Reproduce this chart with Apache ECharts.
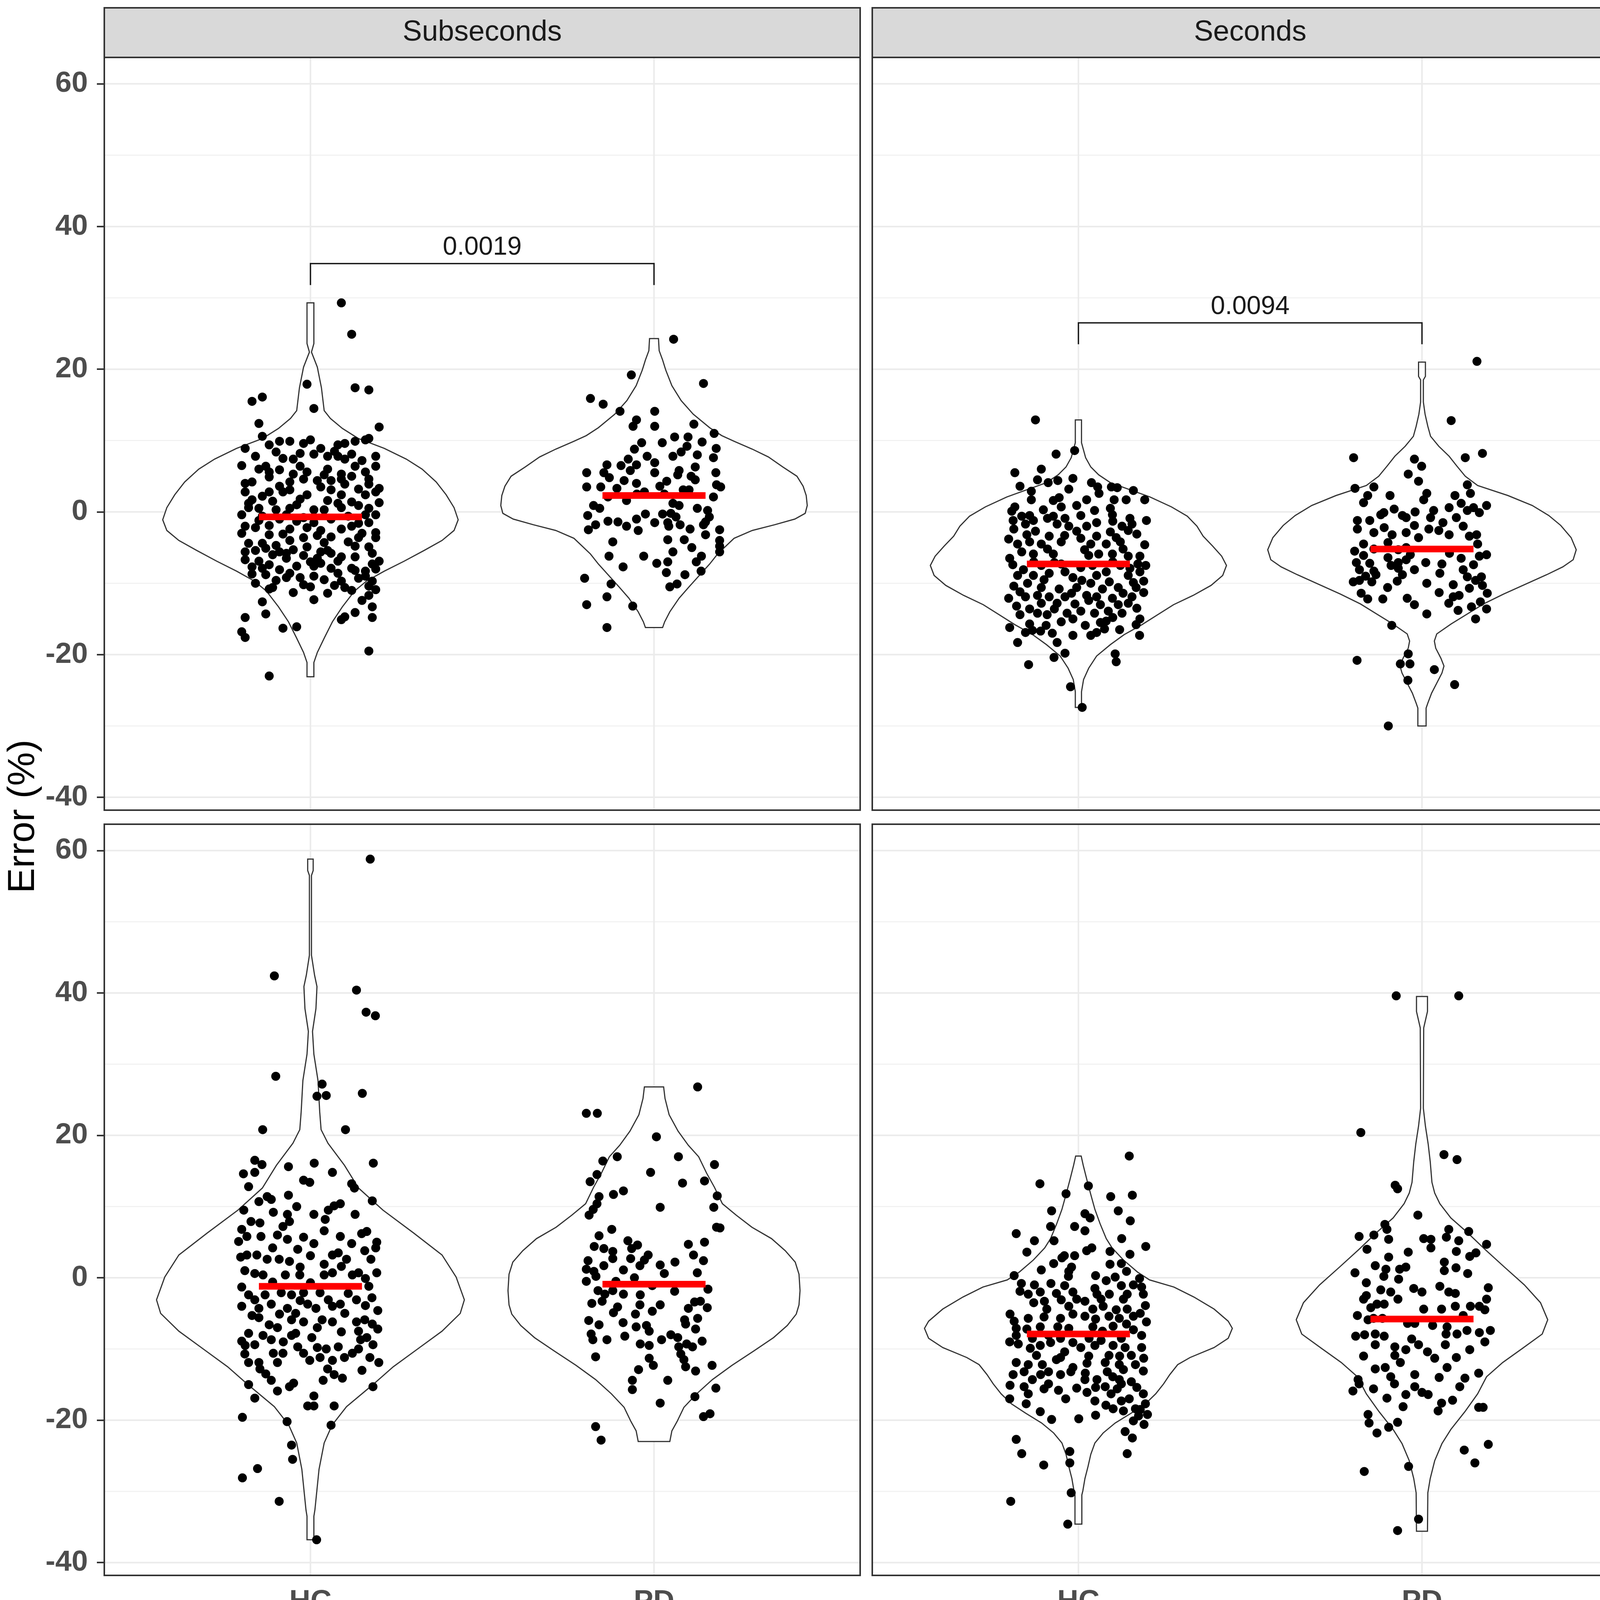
<!DOCTYPE html>
<html>
<head>
<meta charset="utf-8">
<script src="https://cdn.jsdelivr.net/npm/echarts@6/dist/echarts.min.js"></script>
<style>
  html, body { margin: 0; padding: 0; background: #fff; }
  #chart { width: 4317px; height: 4151px; }
</style>
</head>
<body>
<div id="chart"></div>
<script>
// categories and facet labels
var groups = ['HC', 'PD'];
var durations = ['Subseconds', 'Seconds'];
var modalities = ['Auditory', 'Visual'];
var yTicks = [-40, -20, 0, 20, 40, 60];
var yMinor = [-30, -10, 10, 30, 50];

// jittered points: [horizontal jitter, error %]
var subAudHC = [
  [0.09,29.3],[0.12,24.9],[-0.01,17.9],[0.13,17.4],[0.17,17.1],[-0.17,15.5],[-0.14,16.1],[0.01,14.5],[-0.15,12.4],[0.20,11.9],
  [-0.14,10.6],[-0.12,9.4],[-0.09,9.9],[-0.06,9.9],[-0.02,9.6],[0.00,10.1],[0.08,9.4],[0.10,9.6],[0.13,9.9],[0.16,10.1],[0.17,10.3],
  [-0.16,7.8],[-0.08,7.5],[0.01,8.1],[0.03,8.9],[0.08,7.8],[0.10,7.4],[0.12,8.1],[0.19,7.8],[-0.20,6.5],[-0.13,6.4],[-0.12,5.6],
  [-0.03,6.4],[-0.05,5.3],[0.05,6.0],[0.13,6.4],[0.16,5.6],[0.19,6.4],[-0.17,4.2],[-0.12,4.9],[-0.06,4.2],[-0.02,4.6],[0.02,4.4],
  [0.06,4.4],[0.09,4.6],[0.10,3.9],[0.17,3.9],[-0.19,2.8],[-0.17,1.7],[-0.12,2.8],[-0.08,2.8],[-0.06,3.1],[-0.01,2.4],[0.06,3.1],
  [0.09,2.4],[0.12,1.4],[0.16,2.4],[0.19,2.8],[-0.18,0.6],[-0.15,0.5],[-0.10,0.3],[-0.06,0.5],[0.01,0.3],[0.04,0.3],[0.09,0.6],
  [0.19,-0.4],[-0.20,-0.4],[-0.14,-0.6],[-0.07,-0.4],[-0.02,-0.8],[0.16,-0.4],[-0.19,-2.0],[-0.16,-2.2],[-0.12,-1.9],[-0.06,-2.4],
  [-0.01,-2.2],[0.03,-2.6],[0.09,-2.4],[0.12,-2.0],[0.17,-1.5],[0.19,-2.9],[-0.18,-4.4],[-0.14,-4.4],[-0.10,-4.7],[-0.06,-4.0],
  [-0.02,-3.6],[0.02,-3.3],[0.06,-3.5],[0.14,-3.6],[0.19,-3.6],[-0.16,-5.4],[-0.13,-5.1],[-0.09,-5.6],[-0.05,-5.3],[-0.01,-4.9],
  [0.06,-5.8],[0.09,-6.3],[0.18,-5.8],[-0.19,-6.7],[-0.15,-6.9],[-0.12,-7.4],[-0.07,-6.5],[-0.02,-6.1],[0.02,-6.5],[0.05,-5.4],
  [0.20,-6.9],[-0.14,-7.9],[-0.09,-8.1],[-0.06,-8.6],[0.01,-7.6],[0.03,-7.2],[0.12,-7.9],[0.16,-8.3],[-0.17,-8.7],[-0.13,-8.8],
  [-0.07,-9.2],[-0.03,-9.2],[0.01,-9.0],[0.04,-9.5],[0.08,-8.6],[0.09,-9.7],[0.16,-9.0],[0.18,-9.7],[-0.12,-10.8],[-0.11,-10.6],
  [0.05,-11.4],[0.01,-12.3],[0.10,-10.6],[0.12,-11.0],[0.17,-10.4],[-0.14,-12.6],[0.17,-11.7],[-0.19,-14.8],[-0.13,-14.3],
  [0.09,-15.1],[0.10,-14.7],[0.13,-14.1],[0.18,-13.3],[0.18,-14.8],[-0.08,-16.3],[-0.04,-16.1],[-0.20,-16.8],[-0.19,-17.6],
  [0.17,-19.5],[-0.12,-23.0],
  [-0.18,1.2],[-0.11,1.5],[-0.03,1.8],[0.05,1.6],[0.14,0.9],[0.20,1.3],[-0.15,-1.2],[-0.04,-1.3],[0.06,-1.0],[0.11,-0.6],
  [0.15,-3.0],[-0.08,-3.1],[0.00,-7.0],[0.08,-6.9],[-0.11,-6.0],[0.13,-4.8],[-0.19,-5.6],[0.04,5.2],[-0.09,5.9],[0.12,5.0],
  [0.20,3.3],[0.07,8.5],[-0.03,8.2],[0.19,-8.0],[-0.02,-10.2],[0.13,-8.2],
  [-0.19,8.9],[-0.10,8.4],[-0.05,7.4],[0.05,7.8],[0.15,7.2],[-0.15,6.0],[-0.01,5.6],[0.09,5.3],[0.17,4.6],[-0.19,4.0],
  [-0.09,3.6],[0.03,3.5],[0.14,3.2],[-0.14,2.2],[-0.04,1.0],[0.08,1.2],[0.17,0.5],[-0.09,-1.0],[0.01,-1.5],[0.14,-1.6],
  [-0.20,-3.0],[-0.12,-3.2],[0.04,-4.3],[0.11,-4.2],[0.17,-4.9],[-0.07,-5.8],[0.03,-5.6],[0.13,-6.3],[-0.17,-7.7],[-0.04,-7.6],
  [0.06,-7.9],[0.18,-7.3],[-0.10,-9.6],[0.00,-10.5],[0.14,-9.3],[-0.16,-10.0],[0.07,-10.3],[0.19,-10.9],[-0.05,-11.3],[0.15,-12.4]
];
var subAudPD = [
  [0.057,24.2],[-0.066,19.2],[0.144,18.0],[-0.185,15.9],[-0.148,15.1],[-0.099,14.1],[0.002,14.1],[-0.051,12.9],[-0.061,12.0],
  [0.002,12.0],[0.116,12.3],[0.175,11.0],[0.099,10.5],[-0.036,9.7],[0.024,9.7],[0.181,8.9],[-0.057,8.8],[0.096,9.2],[0.126,8.0],
  [0.055,7.8],[0.079,8.4],[0.173,7.6],[-0.075,7.4],[-0.137,6.6],[-0.096,6.5],[-0.051,6.6],[0.002,6.9],[0.120,6.3],[-0.146,5.5],
  [-0.196,5.5],[-0.069,5.8],[0.002,5.5],[0.073,5.8],[0.069,5.2],[0.108,5.0],[-0.087,4.4],[-0.051,4.0],[0.037,4.3],[0.017,3.6],
  [-0.196,3.5],[-0.155,3.5],[-0.108,3.3],[0.182,3.8],[0.194,3.5],[0.085,3.1],[0.102,3.1],[0.173,2.1],[-0.134,2.1],[-0.028,2.8],
  [-0.176,0.9],[-0.158,0.5],[0.055,1.2],[0.073,0.9],[-0.193,-0.5],[-0.134,-1.3],[-0.105,-1.4],[-0.051,-1.0],[-0.025,-0.3],
  [0.025,-0.3],[0.002,-1.5],[0.049,-0.2],[0.064,-0.7],[0.126,0.5],[0.156,0.2],[0.161,-0.7],[0.144,-1.8],[0.043,-2.0],[0.076,-1.8],
  [0.105,-2.4],[-0.046,-2.6],[-0.191,-2.5],[0.191,-2.5],[0.191,-4.0],[0.191,-4.8],[0.191,-5.6],[0.040,-3.9],[0.088,-3.9],
  [-0.131,-6.2],[-0.030,-6.2],[0.055,-5.6],[0.138,-6.2],[0.123,-7.0],[0.040,-7.0],[0.008,-7.2],[-0.090,-7.7],[0.137,-8.3],
  [0.036,-8.5],[-0.202,-9.3],[-0.125,-10.1],[0.046,-10.5],[0.067,-10.1],[-0.137,-11.9],[-0.196,-13.0],[-0.062,-13.2],[-0.137,-16.2],
  [0.03,2.5],[-0.08,1.6],[0.15,-3.2],[-0.02,7.8],[0.11,-5.0],[-0.17,-1.8],[0.06,10.5],[-0.12,-4.2],[0.09,-8.8],[0.18,5.5],
  [-0.05,2.5],[0.12,4.5],[-0.13,4.8],[0.04,-1.5],[0.15,-1.4],[-0.08,-2.0],[0.14,9.8]
];
var secAudHC = [
  [-0.125,12.9],[-0.011,8.6],[-0.065,8.1],[-0.108,6.0],[-0.185,5.5],[-0.016,4.7],[-0.119,4.5],[-0.088,4.1],[0.038,4.1],[0.056,3.5],
  [0.096,3.5],[0.113,3.4],[-0.028,3.2],[-0.137,2.9],[0.193,1.7],[-0.137,1.7],[-0.056,2.0],[-0.073,1.6],[0.024,1.7],[0.104,1.7],
  [0.139,1.7],[-0.185,0.7],[-0.102,0.3],[-0.050,0.7],[-0.005,0.9],[0.047,0.2],[0.093,0.5],[-0.194,0.1],[-0.165,-0.6],[-0.142,-0.5],
  [-0.073,-0.6],[-0.039,-0.9],[0.007,-0.5],[0.099,-0.4],[0.150,-0.9],[0.198,-1.2],[-0.131,-1.2],[-0.154,-1.7],[-0.062,-1.7],
  [-0.028,-2.0],[0.024,-2.0],[0.053,-1.5],[0.127,-2.0],[0.156,-1.7],[-0.188,-2.4],[-0.125,-2.7],[-0.085,-3.4],[-0.005,-2.7],
  [0.053,-3.4],[0.093,-2.8],[0.145,-2.6],[-0.203,-3.8],[-0.177,-4.5],[-0.142,-4.2],[-0.108,-4.5],[-0.050,-4.2],[0.007,-3.7],
  [0.036,-4.5],[0.081,-4.5],[0.122,-4.2],[0.193,-4.6],[-0.165,-5.6],[-0.131,-5.9],[-0.073,-5.9],[0.018,-5.3],[0.059,-5.9],
  [0.099,-5.9],[0.145,-6.2],[0.179,-6.2],[-0.191,-7.4],[-0.160,-8.1],[-0.108,-7.5],[-0.050,-7.3],[0.007,-7.8],[0.041,-7.5],
  [0.081,-8.4],[0.122,-7.5],[0.173,-7.3],[0.196,-7.5],[0.179,-8.4],[-0.177,-8.9],[-0.131,-8.9],[-0.085,-8.6],[-0.039,-8.4],
  [-0.016,-9.2],[0.053,-8.9],[0.145,-8.9],[0.190,-9.7],[-0.188,-10.4],[-0.148,-10.0],[-0.108,-10.6],[-0.056,-10.8],[-0.005,-10.6],
  [0.036,-10.0],[0.070,-10.8],[0.116,-10.6],[0.168,-10.6],[-0.203,-12.1],[-0.154,-11.9],[-0.119,-11.7],[-0.085,-11.9],
  [-0.039,-11.9],[0.024,-11.7],[0.053,-11.9],[0.099,-12.1],[0.156,-11.9],[-0.180,-13.2],[-0.108,-12.8],[-0.062,-12.8],
  [-0.010,-12.9],[0.064,-13.0],[0.116,-13.0],[0.145,-12.8],[-0.142,-13.6],[-0.119,-14.2],[-0.091,-14.4],[-0.033,-14.2],
  [0.007,-13.9],[0.047,-14.2],[0.087,-13.9],[0.127,-14.2],[-0.050,-15.4],[-0.016,-15.0],[0.064,-15.5],[0.081,-15.3],[0.179,-15.0],
  [0.168,-15.8],[-0.142,-15.7],[-0.094,-15.9],[-0.200,-16.2],[-0.154,-16.9],[-0.134,-16.6],[-0.076,-17.0],[-0.016,-17.3],
  [0.036,-17.3],[0.053,-16.9],[0.076,-16.4],[0.178,-17.3],[-0.177,-18.3],[-0.062,-18.3],[-0.039,-19.8],[-0.071,-20.4],
  [0.107,-19.9],[0.110,-21.0],[-0.145,-21.4],[-0.023,-24.5],[0.011,-27.4],
  [-0.17,3.6],[-0.06,4.4],[0.06,2.6],[0.16,3.0],[-0.19,-1.2],[-0.09,-0.9],[0.10,-1.3],[-0.04,-3.3],[0.11,-3.6],[0.17,-3.1],
  [-0.15,-3.2],[-0.09,-5.2],[0.03,-6.1],[0.13,-5.2],[-0.20,-6.5],[-0.13,-7.0],[-0.07,-7.1],[0.10,-7.0],[0.15,-7.9],[-0.10,-9.5],
  [0.01,-9.6],[0.09,-9.8],[0.16,-9.9],[-0.17,-11.2],[-0.02,-11.4],[0.13,-11.4],[0.19,-11.3],[-0.17,-14.4],[-0.07,-13.6],
  [0.03,-12.4],[0.10,-14.8],[0.17,-13.5],[-0.11,-16.7],[0.02,-15.9],[0.12,-16.5]
];
var secAudPD = [
  [0.160,21.1],[0.085,12.8],[-0.199,7.6],[0.126,7.6],[0.176,8.2],[-0.022,7.4],[-0.001,6.4],[-0.040,5.3],[-0.010,4.3],[0.132,3.8],
  [-0.195,3.3],[-0.140,3.5],[-0.158,2.3],[-0.093,2.3],[0.014,2.6],[0.005,1.7],[0.141,2.6],[0.096,2.3],[0.114,1.2],[0.132,0.2],
  [0.150,0.6],[0.188,0.9],[0.167,-0.1],[0.079,0.6],[0.034,0.2],[-0.081,0.4],[-0.111,-0.1],[-0.057,-0.5],[0.025,-0.8],[-0.188,-1.2],
  [-0.152,-1.2],[-0.046,-0.8],[-0.022,-1.9],[0.061,-1.5],[-0.188,-2.4],[-0.140,-2.9],[-0.087,-3.2],[-0.046,-2.9],[-0.010,-3.6],
  [0.049,-2.6],[0.079,-3.2],[0.138,-3.4],[0.159,-3.2],[-0.170,-4.5],[-0.099,-4.3],[0.162,-4.5],[-0.196,-5.5],[-0.140,-5.2],
  [-0.069,-5.3],[-0.046,-5.0],[-0.099,-6.4],[-0.034,-6.0],[0.167,-6.2],[0.188,-6.0],[0.114,-6.5],[-0.191,-7.1],[-0.152,-7.2],
  [-0.069,-7.1],[-0.046,-6.7],[0.011,-7.1],[0.058,-7.3],[-0.182,-8.1],[-0.140,-8.3],[-0.069,-7.9],[-0.022,-8.1],[0.052,-8.6],
  [0.120,-8.1],[-0.164,-9.0],[-0.134,-8.8],[-0.057,-8.8],[0.132,-9.1],[0.173,-9.1],[-0.182,-9.6],[-0.146,-9.8],[-0.072,-9.7],
  [0.014,-10.0],[0.091,-10.2],[0.138,-10.7],[0.176,-10.3],[0.156,-9.6],[0.108,-11.7],[0.091,-11.9],[-0.177,-11.4],[-0.158,-12.2],
  [-0.114,-12.2],[-0.043,-12.1],[-0.022,-13.0],[0.078,-12.8],[0.170,-12.6],[0.188,-13.6],[0.144,-13.3],[0.105,-13.8],[0.014,-14.3],
  [0.156,-15.0],[-0.088,-15.9],[-0.040,-19.9],[-0.063,-21.3],[-0.035,-21.3],[-0.189,-20.8],[0.036,-22.1],[-0.041,-23.6],
  [0.095,-24.2],[-0.098,-30.0],
  [-0.17,1.3],[-0.12,-0.4],[-0.02,0.0],[0.10,-0.8],[-0.11,-2.2],[0.02,-2.4],[0.12,-2.0],[-0.17,-6.1],[-0.09,-7.5],[0.08,-5.8],
  [0.15,-7.4],[-0.20,-9.8],[-0.10,-10.6],[0.05,-11.3],[0.19,-11.4]
];
var subVisHC = [
  [0.174,58.8],[-0.105,42.4],[0.134,40.4],[0.162,37.3],[0.189,36.8],[-0.101,28.3],[0.034,27.2],[0.019,25.5],[0.046,25.6],
  [0.151,25.9],[-0.139,20.8],[0.102,20.8],[-0.162,16.5],[-0.141,15.9],[-0.195,14.6],[-0.162,14.8],[-0.064,15.6],[0.011,16.1],
  [0.064,14.8],[0.183,16.1],[-0.020,13.7],[-0.002,13.4],[0.120,13.2],[0.128,12.6],[-0.064,11.6],[-0.150,10.7],[-0.126,11.4],
  [-0.114,11.0],[-0.194,9.5],[-0.108,9.2],[-0.067,8.9],[-0.061,7.9],[0.010,8.9],[0.043,8.2],[0.052,9.5],[0.069,10.1],[0.087,10.4],
  [-0.173,7.9],[-0.147,7.7],[-0.185,5.8],[-0.144,5.8],[-0.096,6.0],[-0.067,5.4],[-0.020,5.7],[0.010,4.8],[0.087,5.8],[0.149,6.2],
  [0.164,6.5],[0.193,5.0],[-0.209,5.1],[-0.185,3.2],[-0.156,3.2],[-0.126,2.6],[-0.091,2.6],[-0.061,2.3],[-0.037,4.0],[0.040,1.9],
  [0.064,3.2],[0.081,3.5],[0.105,2.6],[0.158,3.8],[0.176,2.6],[-0.203,2.9],[-0.191,1.0],[-0.162,0.6],[-0.138,0.4],[-0.073,0.4],
  [-0.031,0.4],[0.040,0.4],[0.064,0.7],[0.122,0.4],[0.140,0.7],[0.193,0.7],[0.170,-1.2],[-0.180,-2.4],[-0.162,-3.1],[-0.132,-2.4],
  [-0.085,-2.1],[-0.055,-2.4],[-0.020,-2.1],[0.028,-2.1],[0.052,-3.1],[0.134,-3.1],[0.179,-2.8],[-0.200,-4.0],[-0.150,-4.3],
  [-0.114,-3.7],[-0.067,-4.3],[-0.043,-5.0],[-0.008,-3.7],[0.016,-4.3],[0.064,-4.0],[0.087,-3.7],[0.196,-4.6],[-0.150,-5.6],
  [-0.055,-5.9],[-0.020,-6.2],[0.034,-5.9],[0.064,-6.2],[0.134,-6.2],[0.158,-5.9],[-0.096,-7.0],[-0.180,-7.8],[-0.138,-8.1],
  [-0.055,-8.1],[-0.043,-7.8],[0.004,-8.4],[0.196,-7.2],[-0.200,-8.9],[-0.162,-9.4],[-0.114,-8.7],[-0.079,-9.0],[-0.037,-9.7],
  [0.046,-10.0],[0.081,-9.7],[0.146,-8.7],[0.164,-8.4],[0.182,-9.4],[-0.191,-10.7],[-0.108,-10.6],[-0.020,-10.6],[-0.002,-11.6],
  [0.028,-11.2],[0.064,-11.6],[0.099,-11.2],[0.122,-10.6],[0.173,-11.2],[0.199,-11.9],[-0.180,-11.9],[-0.150,-11.9],[-0.096,-11.9],
  [-0.147,-12.8],[-0.114,-14.4],[-0.049,-14.8],[-0.061,-15.3],[-0.096,-15.9],[0.037,-14.4],[0.069,-13.6],[0.093,-14.1],
  [-0.180,-15.0],[-0.162,-16.9],[0.182,-15.3],[0.010,-16.6],[-0.008,-18.0],[0.010,-18.0],[0.069,-18.0],[-0.198,-19.6],
  [-0.068,-20.2],[0.060,-20.7],[-0.055,-23.5],[-0.052,-25.5],[-0.154,-26.8],[-0.198,-28.1],[-0.091,-31.4],[0.018,-36.8],
  [-0.18,12.8],[-0.04,10.0],[0.13,8.9],[0.18,10.8],[-0.08,7.2],[0.04,6.6],[0.12,4.8],[-0.20,6.8],[0.00,3.1],[0.19,4.2],
  [-0.11,4.2],[-0.03,1.5],[0.09,1.6],[-0.11,-0.6],[0.00,-0.7],[0.16,-0.1],[-0.20,-1.3],[-0.03,-3.2],[0.11,-2.2],[0.16,-3.9],
  [-0.17,-5.3],[-0.09,-5.1],[0.10,-5.0],[0.18,-6.5],[-0.12,-6.6],[0.02,-7.0],[0.09,-7.6],[0.14,-7.5],[-0.19,-9.5],[-0.08,-10.6],
  [0.02,-9.8],[0.14,-10.0],[-0.13,-13.5],[0.15,-13.0],[0.05,-12.8]
];
var subVisPD = [
  [0.127,26.8],[-0.197,23.1],[-0.165,23.1],[0.007,19.8],[-0.107,17.0],[0.071,17.0],[-0.149,16.4],[0.176,15.9],[-0.010,14.8],
  [-0.166,14.5],[-0.186,13.5],[0.147,13.6],[0.083,13.3],[-0.089,12.2],[-0.118,11.7],[-0.160,11.4],[0.184,11.5],[-0.166,10.4],
  [-0.177,9.6],[-0.189,8.8],[0.018,9.9],[0.174,9.9],[0.182,7.1],[0.192,7.0],[-0.123,6.8],[-0.160,5.9],[-0.076,5.2],[-0.174,4.4],
  [-0.146,4.1],[-0.048,4.6],[-0.120,3.7],[0.100,4.7],[0.147,5.0],[-0.065,4.1],[-0.017,3.2],[-0.028,2.5],[-0.068,2.7],[0.115,3.2],
  [-0.192,2.4],[-0.120,2.7],[-0.146,1.7],[-0.041,1.7],[0.018,1.8],[0.061,2.2],[0.144,2.4],[-0.197,1.2],[-0.175,0.9],[-0.089,1.1],
  [0.126,0.7],[-0.197,-0.5],[-0.169,0.2],[-0.057,0.0],[-0.111,-0.5],[-0.005,-1.1],[0.157,-1.6],[-0.163,-1.8],[-0.143,-2.3],
  [-0.089,-2.3],[-0.181,-3.6],[-0.151,-3.3],[0.118,-3.4],[0.135,-3.3],[0.155,-4.2],[-0.041,-3.8],[0.018,-3.8],[-0.118,-4.9],
  [-0.106,-4.1],[-0.005,-4.7],[-0.054,-5.1],[0.089,-5.9],[0.127,-5.7],[0.092,-6.5],[-0.160,-6.6],[-0.052,-6.9],[-0.022,-6.7],
  [0.121,-7.2],[-0.183,-7.9],[-0.178,-8.7],[-0.137,-8.7],[-0.085,-8.2],[-0.014,-7.5],[0.022,-8.7],[0.049,-8.0],[0.069,-8.4],
  [-0.040,-9.3],[-0.014,-9.5],[0.072,-9.7],[0.095,-9.3],[0.112,-9.7],[0.078,-10.7],[-0.014,-11.3],[0.087,-11.5],[0.092,-12.5],
  [-0.002,-12.3],[0.169,-12.3],[0.121,-13.1],[-0.045,-12.9],[0.040,-14.4],[-0.063,-14.4],[-0.063,-15.7],[0.180,-15.5],
  [0.119,-16.7],[0.018,-17.6],[0.144,-19.5],[0.163,-19.1],[-0.170,-20.9],[-0.154,-22.8],
  [-0.19,-6.0],[-0.12,-1.8],[-0.04,-2.4],[0.06,-1.9],[0.14,-8.9],[-0.09,-6.3],[0.03,0.6],[0.10,-4.3],[-0.17,-11.1]
];
var secVisHC = [
  [0.148,17.1],[-0.112,13.2],[0.029,12.9],[-0.036,11.8],[0.094,11.4],[0.157,11.6],[-0.078,9.4],[0.116,9.4],[0.019,9.0],[0.034,8.4],
  [0.151,8.0],[-0.081,7.2],[-0.011,7.2],[0.019,6.6],[-0.181,6.2],[-0.128,5.2],[-0.071,5.2],[0.126,5.5],[0.196,4.4],[0.039,4.2],
  [0.024,3.8],[0.092,3.7],[-0.041,3.1],[-0.011,3.1],[-0.048,2.8],[-0.072,2.0],[0.092,1.9],[0.125,2.0],[-0.108,1.1],[-0.028,0.9],
  [-0.187,0.3],[-0.029,0.2],[0.081,-0.4],[0.107,0.1],[0.178,-0.1],[-0.166,-0.8],[-0.128,-1.0],[-0.040,-1.1],[0.048,-1.5],
  [0.125,-1.1],[0.160,-1.0],[0.184,-1.3],[-0.146,-2.3],[-0.111,-2.0],[-0.064,-2.2],[-0.016,-2.0],[0.054,-2.3],[0.142,-2.3],
  [0.189,-2.3],[-0.099,-3.3],[-0.005,-3.0],[0.019,-3.3],[0.066,-3.0],[0.131,-3.0],[0.195,-3.9],[-0.092,-4.4],[-0.028,-4.0],
  [0.042,-4.4],[0.072,-4.0],[0.142,-4.4],[-0.199,-5.1],[-0.146,-5.7],[-0.052,-5.7],[-0.016,-5.1],[0.019,-5.4],[0.089,-5.4],
  [0.119,-5.7],[0.160,-5.4],[-0.187,-6.1],[0.198,-6.2],[-0.181,-7.1],[-0.111,-6.9],[-0.028,-7.1],[0.042,-6.9],[0.101,-6.8],
  [0.160,-7.3],[-0.181,-8.1],[-0.134,-8.5],[-0.087,-8.1],[-0.052,-8.5],[-0.016,-9.1],[0.031,-8.5],[0.066,-8.8],[0.125,-8.5],
  [0.184,-8.1],[-0.175,-9.3],[-0.111,-9.5],[-0.081,-9.1],[0.007,-9.8],[0.048,-9.5],[0.101,-9.5],[0.136,-9.8],[0.184,-9.8],
  [-0.122,-10.9],[-0.052,-11.2],[0.089,-10.9],[0.154,-10.9],[-0.181,-11.9],[-0.146,-12.2],[-0.105,-12.2],[-0.064,-11.5],
  [-0.016,-12.6],[0.025,-12.0],[0.078,-11.9],[0.119,-12.2],[0.166,-12.2],[0.189,-13.1],[-0.158,-13.2],[-0.087,-13.2],
  [-0.052,-13.6],[-0.022,-13.2],[0.084,-13.2],[0.131,-12.9],[-0.134,-14.3],[-0.087,-14.9],[0.019,-14.3],[0.054,-14.3],
  [0.119,-14.3],[0.154,-14.6],[-0.199,-15.1],[-0.158,-15.3],[-0.058,-15.8],[-0.005,-15.5],[0.078,-15.3],[0.113,-15.6],
  [0.125,-14.9],[-0.146,-16.3],[0.025,-16.1],[0.095,-16.3],[0.189,-16.3],[-0.152,-17.7],[-0.037,-17.0],[0.048,-17.3],
  [0.125,-17.3],[0.148,-17.0],[0.101,-18.4],[0.131,-18.7],[0.166,-18.4],[0.195,-17.7],[-0.111,-18.8],[-0.078,-19.9],
  [0.001,-19.8],[0.050,-19.3],[0.175,-19.4],[0.201,-19.2],[0.160,-20.1],[0.191,-20.6],[0.136,-21.6],[0.157,-22.5],
  [-0.181,-22.7],[-0.165,-24.7],[-0.025,-24.4],[-0.025,-26.0],[-0.101,-26.3],[0.142,-24.7],[-0.021,-30.2],[-0.197,-31.4],
  [-0.031,-34.6],
  [-0.15,3.6],[0.15,3.3],[-0.02,1.5],[0.05,0.3],[0.14,0.9],[-0.17,-1.9],[-0.08,-0.8],[0.09,-2.3],[-0.13,-3.5],[-0.05,-3.1],
  [0.11,-4.5],[0.18,-5.0],[-0.10,-5.5],[0.05,-5.8],[-0.15,-7.2],[-0.06,-6.9],[0.07,-7.5],[0.14,-6.5],[-0.20,-9.0],[-0.14,-9.9],
  [-0.04,-10.4],[0.03,-11.0],[0.12,-11.0],[0.19,-11.3],[-0.19,-13.6],[-0.11,-13.6],[0.02,-13.4],[0.10,-13.9],[0.17,-15.4],
  [-0.10,-15.6],[0.05,-15.4],[-0.20,-17.0],[0.08,-17.9],[0.18,-18.5]
];
var secVisPD = [
  [-0.075,39.6],[0.107,39.6],[-0.178,20.4],[0.064,17.3],[0.102,16.6],[-0.078,13.0],[-0.071,12.5],[-0.012,8.8],[-0.108,7.5],
  [-0.183,5.8],[-0.140,6.0],[-0.097,5.4],[-0.102,6.8],[0.078,6.8],[0.071,5.7],[0.107,5.2],[0.136,6.5],[0.005,5.5],[0.026,5.4],
  [0.026,4.2],[0.188,4.7],[-0.097,2.9],[0.139,3.0],[0.157,3.5],[-0.136,1.7],[-0.105,1.2],[-0.065,1.2],[-0.047,1.5],[0.065,2.2],
  [0.099,1.4],[0.133,0.6],[0.065,1.0],[-0.111,0.2],[-0.068,-0.2],[-0.195,0.7],[-0.162,-0.7],[-0.120,-1.7],[-0.091,-2.0],
  [-0.162,-2.5],[-0.024,-1.5],[0.000,-2.0],[0.052,-1.2],[0.078,-2.0],[0.097,-2.2],[0.193,-1.4],[0.188,-3.0],[0.141,-4.0],
  [0.167,-4.0],[0.183,-4.5],[-0.149,-4.2],[-0.131,-3.7],[-0.110,-3.7],[0.005,-4.4],[0.057,-4.4],[0.097,-4.0],[-0.188,-5.3],
  [-0.157,-5.9],[-0.141,-5.7],[-0.115,-5.7],[-0.042,-6.4],[-0.021,-6.4],[0.031,-6.7],[0.073,-6.9],[0.102,-7.9],[0.131,-7.4],
  [0.167,-7.7],[0.199,-7.4],[-0.193,-8.2],[-0.167,-8.0],[-0.136,-7.9],[-0.110,-8.2],[0.183,-9.0],[-0.136,-9.4],[-0.079,-9.7],
  [-0.047,-10.1],[-0.010,-9.4],[0.068,-9.4],[0.139,-10.1],[-0.079,-10.9],[-0.063,-11.9],[0.016,-10.4],[0.037,-11.3],
  [-0.136,-12.8],[-0.107,-12.6],[-0.091,-13.9],[-0.021,-13.6],[0.073,-12.6],[0.125,-14.1],[0.165,-13.4],[-0.186,-14.3],
  [-0.183,-14.9],[-0.201,-15.9],[-0.141,-15.6],[-0.021,-15.3],[0.000,-16.1],[0.018,-16.4],[-0.047,-16.4],[-0.102,-16.9],
  [0.089,-17.2],[0.057,-17.6],[-0.055,-18.1],[0.047,-18.7],[0.165,-18.2],[0.178,-18.2],[-0.157,-19.2],[-0.154,-20.4],
  [-0.131,-21.8],[-0.097,-21.0],[-0.071,-20.3],[0.123,-24.2],[0.193,-23.4],[0.154,-26.0],[-0.039,-26.5],[-0.168,-27.2],
  [-0.010,-33.9],[-0.071,-35.5],
  [-0.16,4.0],[-0.04,3.6],[0.10,3.7],[-0.17,-3.0],[-0.07,-3.0],[0.12,-5.3],[-0.03,-8.6],[0.07,-7.9],[-0.17,-11.0],[0.10,-11.2],
  [-0.08,-14.9],[0.11,-15.3],[0.05,-14.0]
];

// violin outlines: [error %, half width], top to bottom
var subAudHCViolin = [[29.3,0.010],[23.6,0.010],[22.4,0.003],[20.3,0.020],[17.4,0.032],[14.2,0.040],[13.1,0.058],[11.7,0.093],[10.3,0.139],[8.9,0.215],[7.4,0.279],[6.0,0.325],[4.2,0.366],[2.4,0.395],[0.6,0.418],[-1.1,0.430],[-2.6,0.418],[-4.0,0.383],[-5.4,0.331],[-6.9,0.273],[-8.3,0.215],[-9.7,0.163],[-11.1,0.128],[-13.3,0.093],[-15.4,0.064],[-17.6,0.041],[-19.7,0.020],[-21.1,0.010],[-23.1,0.010]];
var subAudPDViolin = [[24.3,0.013],[22.6,0.015],[21.3,0.025],[19.9,0.034],[17.7,0.052],[15.6,0.079],[13.7,0.114],[11.8,0.162],[10.7,0.197],[9.9,0.233],[8.8,0.286],[7.7,0.333],[6.3,0.375],[5.0,0.416],[3.6,0.434],[2.3,0.443],[0.9,0.446],[-0.2,0.440],[-1.0,0.410],[-1.8,0.351],[-2.6,0.286],[-3.7,0.233],[-4.8,0.209],[-5.9,0.185],[-7.3,0.162],[-8.9,0.132],[-10.5,0.102],[-12.1,0.073],[-14.0,0.046],[-15.4,0.031],[-16.2,0.025]];
var secAudHCViolin = [[12.9,0.009],[9.7,0.009],[9.0,0.013],[7.6,0.021],[6.3,0.036],[5.2,0.059],[4.1,0.093],[3.0,0.156],[2.1,0.208],[0.7,0.271],[-0.6,0.317],[-2.0,0.345],[-3.4,0.363],[-4.8,0.391],[-6.2,0.417],[-7.5,0.431],[-8.9,0.420],[-10.3,0.386],[-11.7,0.334],[-13.0,0.277],[-14.4,0.231],[-15.8,0.185],[-17.2,0.133],[-18.6,0.093],[-20.2,0.053],[-21.9,0.030],[-23.5,0.015],[-25.2,0.009],[-27.4,0.009]];
var secAudPDViolin = [[21.0,0.010],[19.0,0.010],[18.5,0.004],[15.4,0.004],[13.7,0.009],[12.0,0.017],[10.6,0.025],[9.2,0.049],[7.8,0.079],[6.4,0.102],[5.0,0.126],[3.7,0.162],[2.3,0.250],[0.9,0.321],[-0.5,0.369],[-1.9,0.404],[-3.6,0.434],[-5.3,0.449],[-6.7,0.440],[-7.7,0.410],[-8.8,0.363],[-10.2,0.298],[-11.5,0.238],[-12.9,0.179],[-14.3,0.132],[-15.7,0.085],[-17.1,0.043],[-18.1,0.036],[-19.1,0.040],[-20.5,0.055],[-21.6,0.064],[-22.6,0.058],[-24.0,0.043],[-25.4,0.028],[-26.8,0.017],[-27.5,0.012],[-30.0,0.012]];
var subVisHCViolin = [[58.8,0.008],[57.2,0.008],[56.5,0.003],[45.3,0.003],[42.5,0.012],[40.9,0.019],[37.8,0.016],[34.6,0.006],[31.4,0.010],[27.7,0.022],[23.3,0.027],[20.8,0.031],[18.9,0.051],[15.8,0.099],[12.6,0.140],[9.5,0.211],[6.3,0.300],[3.2,0.383],[0.1,0.424],[-3.1,0.448],[-5.0,0.436],[-7.5,0.383],[-10.0,0.312],[-12.5,0.241],[-15.0,0.182],[-18.1,0.105],[-20.7,0.063],[-23.2,0.040],[-26.9,0.025],[-30.7,0.017],[-32.6,0.013],[-33.5,0.010],[-36.8,0.010]];
var subVisPDViolin = [[26.8,0.028],[25.2,0.032],[22.9,0.044],[20.6,0.070],[18.6,0.100],[17.0,0.130],[14.7,0.153],[12.7,0.176],[10.4,0.199],[8.8,0.239],[7.1,0.285],[5.5,0.342],[3.8,0.382],[2.2,0.411],[0.5,0.422],[-1.8,0.425],[-3.8,0.422],[-5.1,0.414],[-6.7,0.388],[-8.4,0.348],[-10.3,0.290],[-12.3,0.227],[-14.3,0.170],[-16.3,0.124],[-18.2,0.087],[-20.2,0.067],[-21.5,0.052],[-23.0,0.046]];
var secVisHCViolin = [[17.1,0.008],[15.8,0.014],[13.7,0.025],[11.7,0.036],[9.6,0.048],[7.6,0.063],[5.5,0.081],[4.2,0.098],[2.5,0.131],[0.8,0.172],[-0.3,0.207],[-1.3,0.278],[-2.7,0.336],[-4.4,0.395],[-6.1,0.436],[-7.1,0.448],[-8.5,0.436],[-9.8,0.395],[-11.2,0.325],[-12.2,0.289],[-13.6,0.266],[-14.9,0.248],[-16.3,0.225],[-17.7,0.195],[-19.0,0.154],[-20.4,0.107],[-21.8,0.072],[-23.2,0.048],[-24.8,0.036],[-26.5,0.028],[-28.2,0.019],[-29.9,0.013],[-30.5,0.010],[-34.6,0.010]];
var secVisPDViolin = [[39.5,0.016],[37.4,0.016],[35.1,0.005],[23.8,0.004],[21.3,0.010],[18.8,0.018],[16.3,0.024],[13.4,0.029],[11.9,0.037],[10.4,0.052],[8.4,0.084],[6.4,0.131],[4.0,0.183],[1.5,0.240],[-1.0,0.298],[-3.5,0.345],[-5.9,0.366],[-7.9,0.350],[-9.9,0.293],[-11.9,0.235],[-13.9,0.188],[-16.3,0.162],[-18.8,0.125],[-21.3,0.084],[-23.3,0.058],[-25.7,0.037],[-28.2,0.024],[-30.2,0.017],[-35.6,0.016]];

// medians per panel: [HC, PD]
var subAudMedian = [-0.7, 2.3];
var secAudMedian = [-7.3, -5.2];
var subVisMedian = [-1.2, -0.9];
var secVisMedian = [-7.9, -5.8];

// significance brackets (top row only)
var pLabels = ['0.0019', '0.0094'];
var bracketTop = [34.8, 26.5];
var bracketFoot = [31.8, 23.5];

var panels = [
  { hc: subAudHC, pd: subAudPD, hcV: subAudHCViolin, pdV: subAudPDViolin, med: subAudMedian },
  { hc: secAudHC, pd: secAudPD, hcV: secAudHCViolin, pdV: secAudPDViolin, med: secAudMedian },
  { hc: subVisHC, pd: subVisPD, hcV: subVisHCViolin, pdV: subVisPDViolin, med: subVisMedian },
  { hc: secVisHC, pd: secVisPD, hcV: secVisHCViolin, pdV: secVisPDViolin, med: secVisMedian }
];

var X_MIN = 0.4, X_MAX = 2.6, Y_MIN = -41.8, Y_MAX = 63.7;
var colLeft = [267, 2233], colWidth = 1935;
var rowTop = [147, 2110], rowHeight = [1927, 1923];
var FONT = '"Liberation Sans", Arial, sans-serif';

var chart = echarts.init(document.getElementById('chart'));

var grids = [], xAxes = [], yAxes = [], series = [];
for (var i = 0; i < 4; i++) {
  var r = Math.floor(i / 2), c = i % 2;
  grids.push({ left: colLeft[c], top: rowTop[r], width: colWidth, height: rowHeight[r], containLabel: false });
  xAxes.push({
    gridIndex: i, type: 'value', min: X_MIN, max: X_MAX,
    axisLine: { show: false }, splitLine: { show: false },
    axisTick: { show: r === 1, customValues: [1, 2], length: 19, lineStyle: { color: '#333333', width: 4 } },
    axisLabel: {
      show: r === 1, customValues: [1, 2], margin: 31,
      fontFamily: FONT, fontSize: 75, fontWeight: 'bold', color: '#4D4D4D',
      formatter: function (v) {
        var k = Math.round(v);
        return Math.abs(v - k) < 1e-6 && k >= 1 && k <= 2 ? groups[k - 1] : '';
      }
    }
  });
  yAxes.push({
    gridIndex: i, type: 'value', min: Y_MIN, max: Y_MAX,
    axisLine: { show: false }, splitLine: { show: false },
    axisTick: { show: c === 0, customValues: yTicks, length: 19, lineStyle: { color: '#333333', width: 4 } },
    axisLabel: {
      show: c === 0, customValues: yTicks, margin: 42,
      fontFamily: FONT, fontSize: 75, fontWeight: 'bold', color: '#4D4D4D',
      formatter: function (v) { return Math.abs(v % 20) < 1e-6 ? String(v) : ''; }
    }
  });

  // background grid lines
  series.push({
    type: 'custom', xAxisIndex: i, yAxisIndex: i, silent: true, z: 1,
    data: [[1, 0]],
    renderItem: function (params, api) {
      var kids = [];
      yMinor.forEach(function (v) {
        var a = api.coord([X_MIN, v]), b = api.coord([X_MAX, v]);
        kids.push({ type: 'line', shape: { x1: a[0], y1: a[1], x2: b[0], y2: b[1] }, style: { stroke: '#F0F0F0', lineWidth: 2.5 } });
      });
      yTicks.forEach(function (v) {
        var a = api.coord([X_MIN, v]), b = api.coord([X_MAX, v]);
        kids.push({ type: 'line', shape: { x1: a[0], y1: a[1], x2: b[0], y2: b[1] }, style: { stroke: '#EBEBEB', lineWidth: 4 } });
      });
      [1, 2].forEach(function (v) {
        var a = api.coord([v, Y_MIN]), b = api.coord([v, Y_MAX]);
        kids.push({ type: 'line', shape: { x1: a[0], y1: a[1], x2: b[0], y2: b[1] }, style: { stroke: '#EBEBEB', lineWidth: 4 } });
      });
      return { type: 'group', children: kids };
    }
  });

  // violins, jittered points and red medians
  (function (p) {
    series.push({
      type: 'custom', xAxisIndex: i, yAxisIndex: i, silent: true, z: 2,
      data: [[1, 0], [2, 0]],
      renderItem: function (params, api) {
        var ctr = params.dataIndex + 1;
        var outline = params.dataIndex === 0 ? p.hcV : p.pdV;
        var pts = [];
        outline.forEach(function (d) { pts.push(api.coord([ctr + d[1], d[0]])); });
        for (var k = outline.length - 1; k >= 0; k--) pts.push(api.coord([ctr - outline[k][1], outline[k][0]]));
        return { type: 'polygon', shape: { points: pts }, style: { fill: '#FFFFFF', stroke: '#333333', lineWidth: 3 } };
      }
    });
    series.push({
      type: 'scatter', xAxisIndex: i, yAxisIndex: i, silent: true, z: 3,
      symbol: 'circle', symbolSize: 23, itemStyle: { color: '#000000', opacity: 1 },
      data: p.hc.map(function (d) { return [1 + d[0], d[1]]; })
        .concat(p.pd.map(function (d) { return [2 + d[0], d[1]]; }))
    });
    series.push({
      type: 'custom', xAxisIndex: i, yAxisIndex: i, silent: true, z: 4,
      data: [[1, p.med[0]], [2, p.med[1]]],
      renderItem: function (params, api) {
        var ctr = api.value(0), m = api.value(1);
        var a = api.coord([ctr - 0.15, m]), b = api.coord([ctr + 0.15, m]);
        return { type: 'line', shape: { x1: a[0], y1: a[1], x2: b[0], y2: b[1] }, style: { stroke: '#FF0000', lineWidth: 17 } };
      }
    });
  })(panels[i]);

  if (r === 0) {
    (function (c) {
      series.push({
        type: 'custom', xAxisIndex: i, yAxisIndex: i, silent: true, z: 5,
        data: [[1.5, bracketTop[c]]],
        renderItem: function (params, api) {
          var p1 = api.coord([1, bracketFoot[c]]), p2 = api.coord([1, bracketTop[c]]);
          var p3 = api.coord([2, bracketTop[c]]), p4 = api.coord([2, bracketFoot[c]]);
          var mid = api.coord([1.5, bracketTop[c]]);
          return {
            type: 'group', children: [
              { type: 'polyline', shape: { points: [p1, p2, p3, p4] }, style: { stroke: '#1A1A1A', lineWidth: 3.5, fill: null } },
              { type: 'text', x: mid[0], y: mid[1] - 8, style: { text: pLabels[c], fontFamily: FONT, fontSize: 66, fill: '#1A1A1A', align: 'center', verticalAlign: 'bottom' } }
            ]
          };
        }
      });
    })(c);
  }
}

// facet strips, panel borders and the y title
var graphics = [];
for (var c2 = 0; c2 < 2; c2++) {
  graphics.push({ type: 'rect', z: 100, shape: { x: colLeft[c2], y: 20, width: colWidth, height: rowTop[0] - 20 },
    style: { fill: '#D9D9D9', stroke: '#333333', lineWidth: 4 } });
  graphics.push({ type: 'text', z: 101, x: colLeft[c2] + colWidth / 2, y: (20 + rowTop[0]) / 2,
    style: { text: durations[c2], fontFamily: FONT, fontSize: 74, fill: '#1A1A1A', align: 'center', verticalAlign: 'middle' } });
}
for (var r2 = 0; r2 < 2; r2++) {
  var sx = colLeft[1] + colWidth;
  graphics.push({ type: 'rect', z: 100, shape: { x: sx, y: rowTop[r2], width: 127, height: rowHeight[r2] },
    style: { fill: '#D9D9D9', stroke: '#333333', lineWidth: 4 } });
  graphics.push({ type: 'text', z: 101, x: sx + 63.5, y: rowTop[r2] + rowHeight[r2] / 2, rotation: -Math.PI / 2,
    style: { text: modalities[r2], fontFamily: FONT, fontSize: 74, fill: '#1A1A1A', align: 'center', verticalAlign: 'middle' } });
  for (var c3 = 0; c3 < 2; c3++) {
    graphics.push({ type: 'rect', z: 100, shape: { x: colLeft[c3], y: rowTop[r2], width: colWidth, height: rowHeight[r2] },
      style: { fill: null, stroke: '#333333', lineWidth: 4 } });
  }
}
graphics.push({ type: 'text', z: 101, x: 60, y: (rowTop[0] + rowTop[1] + rowHeight[1]) / 2, rotation: Math.PI / 2,
  style: { text: 'Error (%)', fontFamily: FONT, fontSize: 97, fill: '#000000', align: 'center', verticalAlign: 'middle' } });

chart.setOption({
  animation: false,
  backgroundColor: '#FFFFFF',
  grid: grids,
  xAxis: xAxes,
  yAxis: yAxes,
  series: series,
  graphic: graphics
});
</script>
</body>
</html>
